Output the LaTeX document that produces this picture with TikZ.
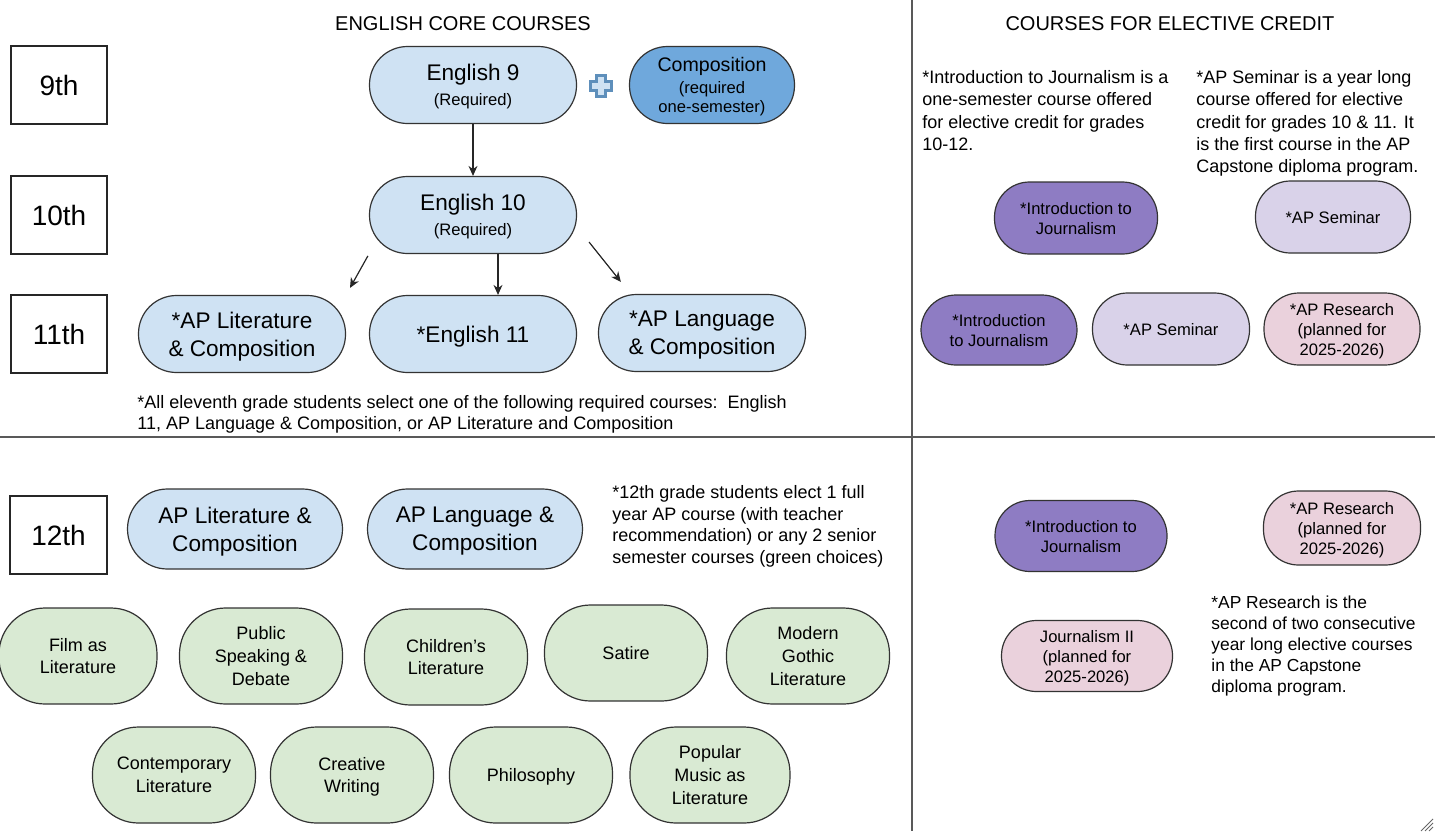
\documentclass[tikz,border=0pt]{standalone}
\usepackage{fontspec}
\setmainfont{Liberation Sans}
\usetikzlibrary{arrows.meta}

\definecolor{coreblue}{HTML}{CFE2F3}
\definecolor{compblue}{HTML}{6FA8DC}
\definecolor{jourpurple}{HTML}{8E7CC3}
\definecolor{semlav}{HTML}{D9D2E9}
\definecolor{respink}{HTML}{EAD1DC}
\definecolor{electgreen}{HTML}{D9EAD3}
\newcommand{\fsz}[2]{\fontsize{#1}{#2}\selectfont}

\tikzset{
  divider/.style={draw=black!65, line width=1pt},
  heading/.style={font=\fsz{10}{12}},
  grade/.style={draw=black!85, line width=0.7pt, minimum width=48pt, minimum height=39pt, inner sep=0pt, font=\fsz{14}{17}},
  course/.style={draw=black!80, line width=0.6pt, fill=coreblue, rounded corners=19pt, minimum width=103.5pt, minimum height=38.5pt, inner sep=0pt, text depth=0pt, align=center, font=\fsz{11.3}{14}},
  choice/.style={course, fill=electgreen, rounded corners=23pt, minimum width=81.5pt, minimum height=48pt, font=\fsz{9}{11.3}},
  pill/.style={course, rounded corners=17.5pt, minimum width=79pt, minimum height=36pt, font=\fsz{8.3}{10}},
  note/.style={anchor=north west, align=left, inner sep=0pt, font=\fsz{9}{11.15}},
  link/.style={draw=black!85, line width=0.6pt, ->}
}

\begin{document}
\begin{tikzpicture}[x=0.5pt, y=-0.5pt, >={Stealth[length=5pt,width=4.5pt]}]
\useasboundingbox (0,0) rectangle (1435,831);
\draw[divider] (912,0) -- (912,831);
\draw[divider] (0,437) -- (1435,437);

\node[heading] (coretitle) at (463,24) {ENGLISH CORE COURSES};
\node[heading] (electtitle) at (1170,24) {COURSES FOR ELECTIVE CREDIT};

\node[grade] (g9) at (59,85) {9th};
\node[grade] (g10) at (59,215) {10th};
\node[grade] (g11) at (59,334) {11th};
\node[grade, minimum width=48.5pt] (g12) at (58.5,535) {12th};

\node[course] (eng9) at (473,85) {English 9\\[-1.5pt]{\fsz{8.3}{10}(Required)}};
\coordinate (plus) at (601,86);
\draw[fill=coreblue, draw=compblue!85!black, line width=1.1pt, shift={(plus)}]
  (-4.5,-10.5) -- (4.5,-10.5) -- (4.5,-4.5) -- (10.5,-4.5) -- (10.5,4.5) -- (4.5,4.5) -- (4.5,10.5)
  -- (-4.5,10.5) -- (-4.5,4.5) -- (-10.5,4.5) -- (-10.5,-4.5) -- (-4.5,-4.5) -- cycle;
\node[course, fill=compblue, minimum width=82.5pt, font=\fsz{9.8}{11}] (comp) at (712,85)
  {Composition\\{\fsz{8.3}{10}(required}\\[-1.5pt]{\fsz{8.3}{10}one-semester)}};

\node[course] (eng10) at (473,215) {English 10\\[-1.5pt]{\fsz{8.3}{10}(Required)}};
\node[course] (aplit11) at (242,334) {*AP Literature\\\& Composition};
\node[course] (eng11) at (473,334) {*English 11};
\node[course] (aplang11) at (702,333) {*AP Language\\\& Composition};

\draw[link] (eng9) -- (eng10);
\draw[link, shorten <=1pt, shorten >=4pt] (eng10.south west) -- (aplit11.north east);
\draw[link] ([xshift=12.5pt]eng10.south) -- ([xshift=12.5pt]eng11.north);
\draw[link] ([xshift=6pt,yshift=6pt]eng10.south east) -- ([xshift=11.5pt,yshift=6pt]aplang11.north west);

\node[note, font=\fsz{9}{10.5}] (note11) at (137,395)
  {*All eleventh grade students select one of the following required courses:\ \ English\\11, AP Language \& Composition, or AP Literature and Composition};

\node[course, minimum width=107.5pt, minimum height=40pt, rounded corners=20pt] (aplit12) at (235,529) {AP Literature \&\\Composition};
\node[course, minimum width=107.5pt, minimum height=40pt, rounded corners=20pt] (aplang12) at (475,529) {AP Language \&\\Composition};
\node[note, font=\fsz{9}{10.85}] (note12) at (612,485)
  {*12th grade students elect 1 full\\year AP course (with teacher\\recommendation) or any 2 senior\\semester courses (green choices)};

\node[choice, minimum width=79pt] (film) at (78,656) {Film as\\Literature};
\node[choice] (speech) at (261,656) {Public\\Speaking \&\\Debate};
\node[choice] (kids) at (446,657) {Children’s\\Literature};
\node[choice] (satire) at (626,653) {Satire};
\node[choice] (gothic) at (808,656) {Modern\\Gothic\\Literature};
\node[choice] (contemp) at (174,775) {Contemporary\\Literature};
\node[choice] (creative) at (352,775) {Creative\\Writing};
\node[choice] (philo) at (531,775) {Philosophy};
\node[choice, minimum width=80pt] (popmusic) at (710,775) {Popular\\Music as\\Literature};

\node[note] (jnote) at (922,70)
  {*Introduction to Journalism is a\\one-semester course offered\\for elective credit for grades\\10-12.};
\node[note] (snote) at (1196,70)
  {*AP Seminar is a year long\\course offered for elective\\credit for grades 10 \& 11. It\\is the first course in the AP\\Capstone diploma program.};

\node[pill, fill=jourpurple, minimum width=81.5pt] (intro1) at (1076,218) {*Introduction to\\Journalism};
\node[pill, fill=semlav, minimum width=77.5pt] (sem1) at (1333,217) {*AP Seminar};
\node[pill, fill=jourpurple, minimum width=78pt, minimum height=35pt] (intro2) at (999,330) {*Introduction\\to Journalism};
\node[pill, fill=semlav, minimum width=78.5pt] (sem2) at (1171,329) {*AP Seminar};
\node[pill, fill=respink, minimum width=78pt] (res1) at (1342,329) {*AP Research\\(planned for\\2025-2026)};

\node[pill, fill=jourpurple, minimum width=86pt, minimum height=35.5pt] (intro3) at (1081,536) {*Introduction to\\Journalism};
\node[pill, fill=respink, minimum width=78.5pt, minimum height=37pt] (res2) at (1342,528) {*AP Research\\(planned for\\2025-2026)};
\node[pill, fill=respink, minimum width=85.5pt, minimum height=35.5pt] (jour2) at (1087,656) {Journalism II\\(planned for\\2025-2026)};
\node[note, font=\fsz{8.7}{10.6}] (rnote) at (1211,595)
  {*AP Research is the\\second of two consecutive\\year long elective courses\\in the AP Capstone\\diploma program.};

\draw[black!60, line width=0.4pt] (1421,831) -- (1433,819) (1425,831) -- (1433,823) (1429,831) -- (1433,827);
\end{tikzpicture}
\end{document}
